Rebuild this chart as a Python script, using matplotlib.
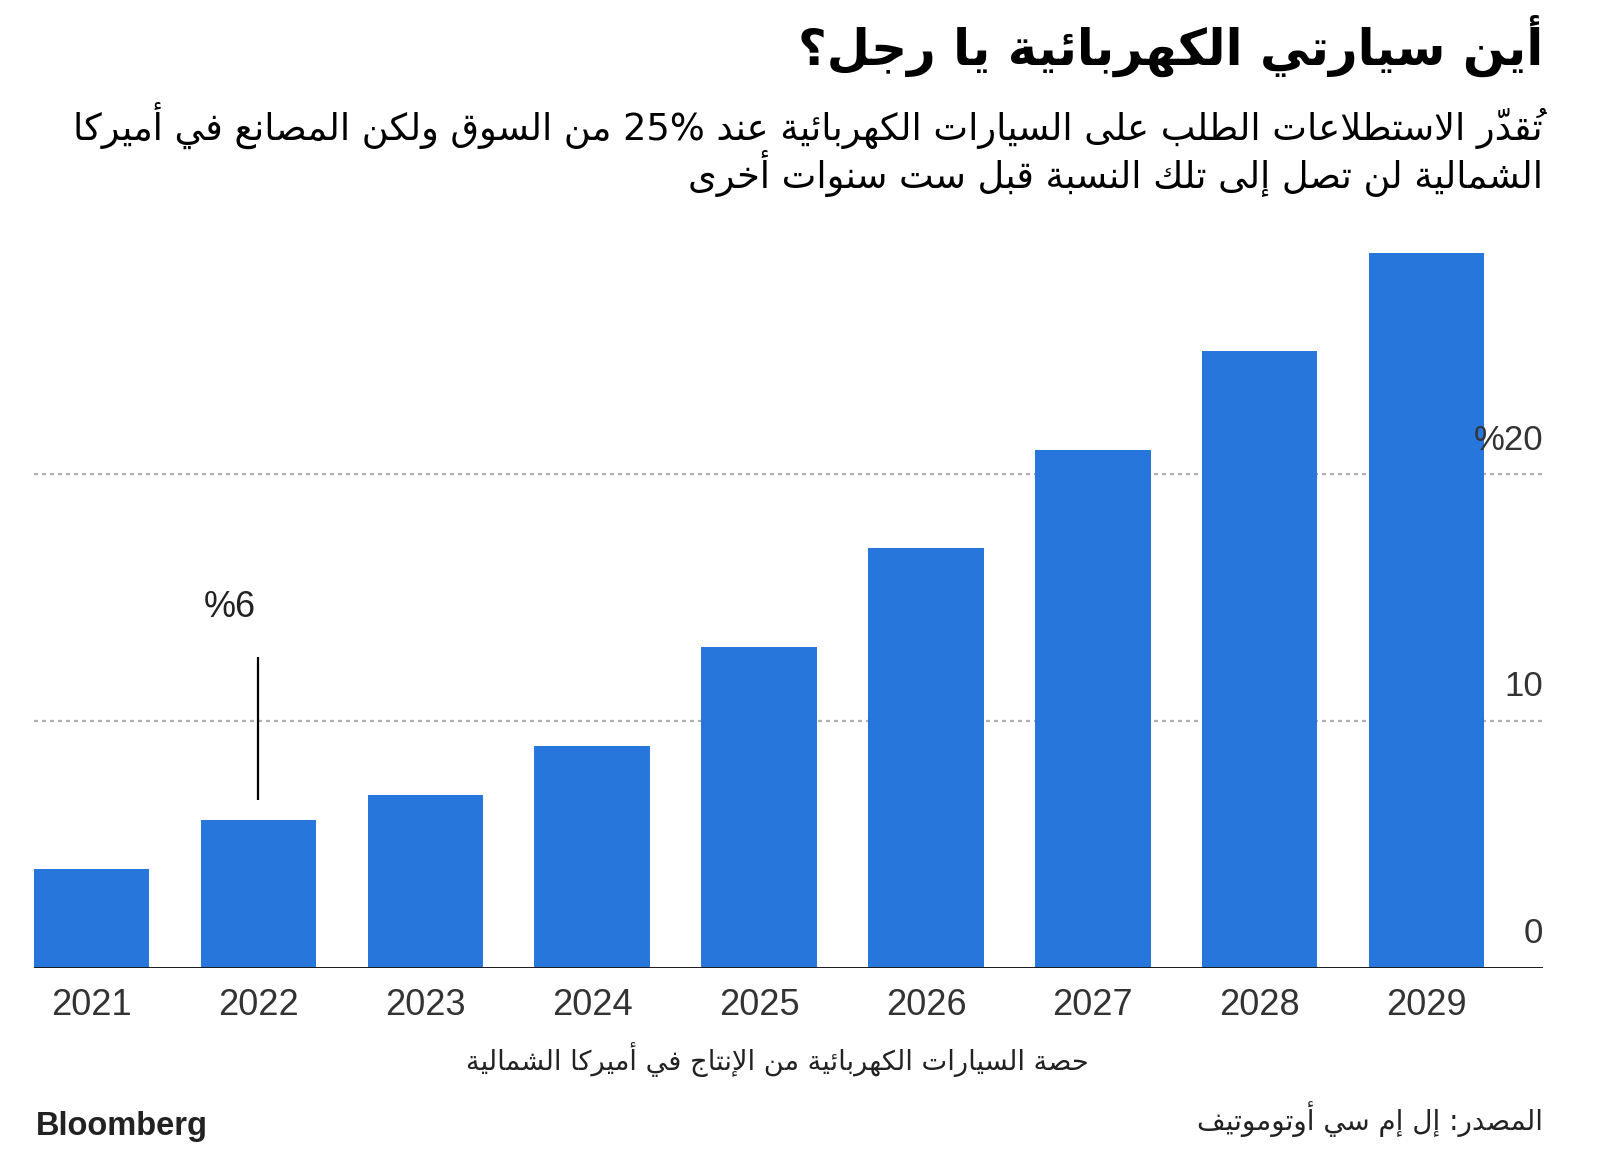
import matplotlib
matplotlib.use("Agg")
import matplotlib.pyplot as plt

# data
years = ["2021", "2022", "2023", "2024", "2025", "2026", "2027", "2028", "2029"]
ev_share = [4, 6, 7, 9, 13, 17, 21, 25, 29]
y_ticks = [0, 10, 20]
y_tick_labels = ["0", "10", "%20"]
grid_levels = [10, 20]

callout_idx = 1          # 2022
callout_label = "%6"
callout_line = (6.8, 12.6)
callout_text_y = 14.6

title = "أين سيارتي الكهربائية يا رجل؟"
subtitle_1 = "تُقدّر الاستطلاعات الطلب على السيارات الكهربائية عند 25% من السوق ولكن المصانع في أميركا"
subtitle_2 = "الشمالية لن تصل إلى تلك النسبة قبل ست سنوات أخرى"
x_label = "حصة السيارات الكهربائية من الإنتاج في أميركا الشمالية"
source = "المصدر: إل إم سي أوتوموتيف"

BAR_COLOR = "#2676DC"

# --- minimal arabic shaping (matplotlib has no shaping / bidi) ---
ARABIC = {
    'ء': (0xFE80, 'U'), 'آ': (0xFE81, 'R'), 'أ': (0xFE83, 'R'), 'ؤ': (0xFE85, 'R'),
    'إ': (0xFE87, 'R'), 'ئ': (0xFE89, 'D'), 'ا': (0xFE8D, 'R'), 'ب': (0xFE8F, 'D'),
    'ة': (0xFE93, 'R'), 'ت': (0xFE95, 'D'), 'ث': (0xFE99, 'D'), 'ج': (0xFE9D, 'D'),
    'ح': (0xFEA1, 'D'), 'خ': (0xFEA5, 'D'), 'د': (0xFEA9, 'R'), 'ذ': (0xFEAB, 'R'),
    'ر': (0xFEAD, 'R'), 'ز': (0xFEAF, 'R'), 'س': (0xFEB1, 'D'), 'ش': (0xFEB5, 'D'),
    'ص': (0xFEB9, 'D'), 'ض': (0xFEBD, 'D'), 'ط': (0xFEC1, 'D'), 'ظ': (0xFEC5, 'D'),
    'ع': (0xFEC9, 'D'), 'غ': (0xFECD, 'D'), 'ف': (0xFED1, 'D'), 'ق': (0xFED5, 'D'),
    'ك': (0xFED9, 'D'), 'ل': (0xFEDD, 'D'), 'م': (0xFEE1, 'D'), 'ن': (0xFEE5, 'D'),
    'ه': (0xFEE9, 'D'), 'و': (0xFEED, 'R'), 'ى': (0xFEEF, 'R'), 'ي': (0xFEF1, 'D'),
}
LAM_ALEF = {'آ': 0xFEF5, 'أ': 0xFEF7, 'إ': 0xFEF9, 'ا': 0xFEFB}
HARAKAT = set('\u064B\u064C\u064D\u064E\u064F\u0650\u0651\u0652')


def shape(text):
    units = []
    i = 0
    while i < len(text):
        ch = text[i]
        if ch in HARAKAT and units:
            units[-1][2] += ch
        elif ch == 'ل' and i + 1 < len(text) and text[i + 1] in LAM_ALEF:
            units.append([LAM_ALEF[text[i + 1]], 'R', ''])
            i += 1
        elif ch in ARABIC:
            code, jt = ARABIC[ch]
            units.append([code, jt, ''])
        else:
            units.append([ch, None, ''])
        i += 1

    out = []
    for k, (g, jt, marks) in enumerate(units):
        if jt is None:
            out.append(marks + g)
            continue
        prev_d = k > 0 and units[k - 1][1] == 'D'
        next_j = k + 1 < len(units) and units[k + 1][1] in ('D', 'R')
        if jt == 'U':
            form = 0
        elif jt == 'R':
            form = 1 if prev_d else 0
        else:
            form = {(False, False): 0, (True, False): 1,
                    (False, True): 2, (True, True): 3}[(prev_d, next_j)]
        # zero-width marks draw to the right of the pen, so they go first
        out.append(marks + chr(g + form))
    return out


def ar(text):
    runs = []
    for c in shape(text):
        ltr = c[-1] in "0123456789%"
        if runs and runs[-1][0] == ltr:
            runs[-1][1].append(c)
        else:
            runs.append([ltr, [c]])
    res = ""
    for ltr, cs in reversed(runs):
        res += "".join(cs if ltr else reversed(cs))
    return res


AR_FONT = ["DejaVu Sans"]
NUM_FONT = ["Liberation Sans", "DejaVu Sans"]

fig = plt.figure(figsize=(16, 11.54), dpi=100)
ax = fig.add_axes([0.02106, 0.16161, 0.94334, 0.64082])

x = list(range(len(years)))
ax.bar(x, ev_share, width=0.691, color=BAR_COLOR, zorder=2)
ax.set_xlim(-0.3455, 8.697)
ax.set_ylim(0, 30)

for v in grid_levels:
    ax.axhline(v, color="#b0b0b0", lw=1.6, dashes=(1.8, 1.8), zorder=1)
ax.axhline(0, color="#1a1a1a", lw=1.4, zorder=3)

for v, lab in zip(y_ticks, y_tick_labels):
    ax.annotate(lab, xy=(1, v), xycoords=("axes fraction", "data"),
                xytext=(0, 24.5), textcoords="offset points",
                ha="right", va="center", fontsize=25, color="#333333",
                family=NUM_FONT)

for s in ax.spines.values():
    s.set_visible(False)
ax.set_yticks([])
ax.set_xticks(x)
ax.set_xticklabels(years, fontsize=26, color="#333333", family=NUM_FONT)
ax.tick_params(axis="x", length=0, pad=15)

# callout on 2022
ax.vlines(callout_idx, callout_line[0], callout_line[1], color="black", lw=1.6, zorder=4)
ax.annotate(callout_label, xy=(callout_idx, callout_text_y), xytext=(-2, 0),
            textcoords="offset points", ha="right", va="center",
            fontsize=26, color="#222222", family=NUM_FONT)

fig.text(0.9644, 0.960, ar(title), ha="right", va="center", fontsize=35.8,
         fontweight="bold", family=AR_FONT, color="black")
fig.text(0.9644, 0.891, ar(subtitle_1), ha="right", va="center", fontsize=26.5,
         family=AR_FONT, color="black")
fig.text(0.9644, 0.850, ar(subtitle_2), ha="right", va="center", fontsize=26.5,
         family=AR_FONT, color="black")

fig.text(0.486, 0.0823, ar(x_label), ha="center", va="center", fontsize=19.6,
         family=AR_FONT, color="#222222")
fig.text(0.9644, 0.0303, ar(source), ha="right", va="center", fontsize=20,
         family=AR_FONT, color="#222222")
fig.text(0.0225, 0.0234, "Bloomberg", ha="left", va="center", fontsize=23.5,
         fontweight="bold", family=["Liberation Sans", "DejaVu Sans"], color="#222222")

fig.savefig("out.png", dpi=100, facecolor="white")
